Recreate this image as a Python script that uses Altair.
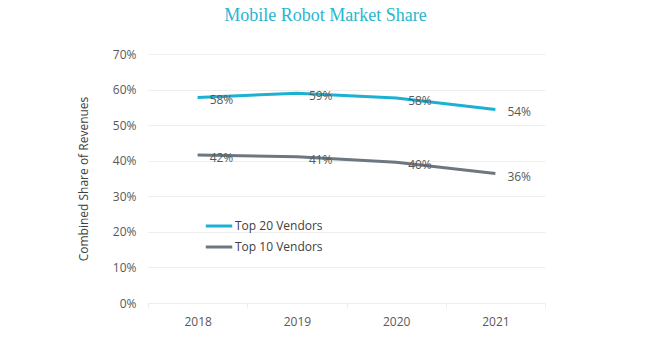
import altair as alt
import pandas as pd

years = ["2018", "2019", "2020", "2021"]
top20 = [57.8, 59.0, 57.6, 54.4]
top10 = [41.6, 41.1, 39.6, 36.4]
top20_labels = ["58%", "59%", "58%", "54%"]
top10_labels = ["42%", "41%", "40%", "36%"]
series = ["Top 20 Vendors", "Top 10 Vendors"]
colors = ["#1cb0d2", "#6c7780"]

rows = []
for y, v, l in zip(years, top20, top20_labels):
    rows.append({"year": y, "value": v / 100, "label": l, "series": series[0]})
for y, v, l in zip(years, top10, top10_labels):
    rows.append({"year": y, "value": v / 100, "label": l, "series": series[1]})
df = pd.DataFrame(rows)

FONT = "Open Sans"

x = alt.X("year:N", title=None, sort=years,
          scale=alt.Scale(paddingInner=0, paddingOuter=0),
          axis=alt.Axis(labelAngle=0, labelFont=FONT, labelFontSize=12, labelColor="#595959",
                        domain=False, ticks=True, tickColor="#eeeeee", tickSize=5, tickBand="extent",
                        labelPadding=8, grid=False))
y = alt.Y("value:Q", title="Combined Share of Revenues",
          scale=alt.Scale(domain=[0, 0.7]),
          axis=alt.Axis(format=".0%", values=[0, 0.1, 0.2, 0.3, 0.4, 0.5, 0.6, 0.7],
                        labelFont=FONT, labelFontSize=12, labelColor="#595959",
                        titleFont=FONT, titleFontSize=12, titleFontWeight="normal",
                        titleColor="#404040", titlePadding=22,
                        domain=False, ticks=False, labelPadding=12,
                        grid=True, gridColor="#eeeeee"))
color = alt.Color("series:N", sort=series,
                  scale=alt.Scale(domain=series, range=colors),
                  legend=alt.Legend(title=None, orient="none", legendX=56, legendY=157,
                                    symbolType="stroke", symbolStrokeWidth=3, symbolSize=700,
                                    labelFont=FONT, labelFontSize=12, labelColor="#404040",
                                    rowPadding=0, labelOffset=1))

base = alt.Chart(df)
lines = base.mark_line(strokeWidth=3).encode(x=x, y=y, color=color)
labels = base.mark_text(align="left", baseline="middle", dx=12, dy=3,
                        font=FONT, fontSize=12, color="#595959").encode(
    x=x, y=y, text="label:N")

chart = (lines + labels).properties(
    width=397, height=249,
    autosize=alt.AutoSizeParams(type="none"),
    padding={"left": 148, "top": 54, "right": 105, "bottom": 42},
    title=alt.TitleParams("Mobile Robot Market Share", font="Liberation Serif", fontSize=18,
                          fontWeight="normal", color="#29b5d0", anchor="middle", dx=-21, offset=23),
).configure_view(stroke=None)

chart.save("out.html", embed_options={"renderer": "svg", "actions": False})
